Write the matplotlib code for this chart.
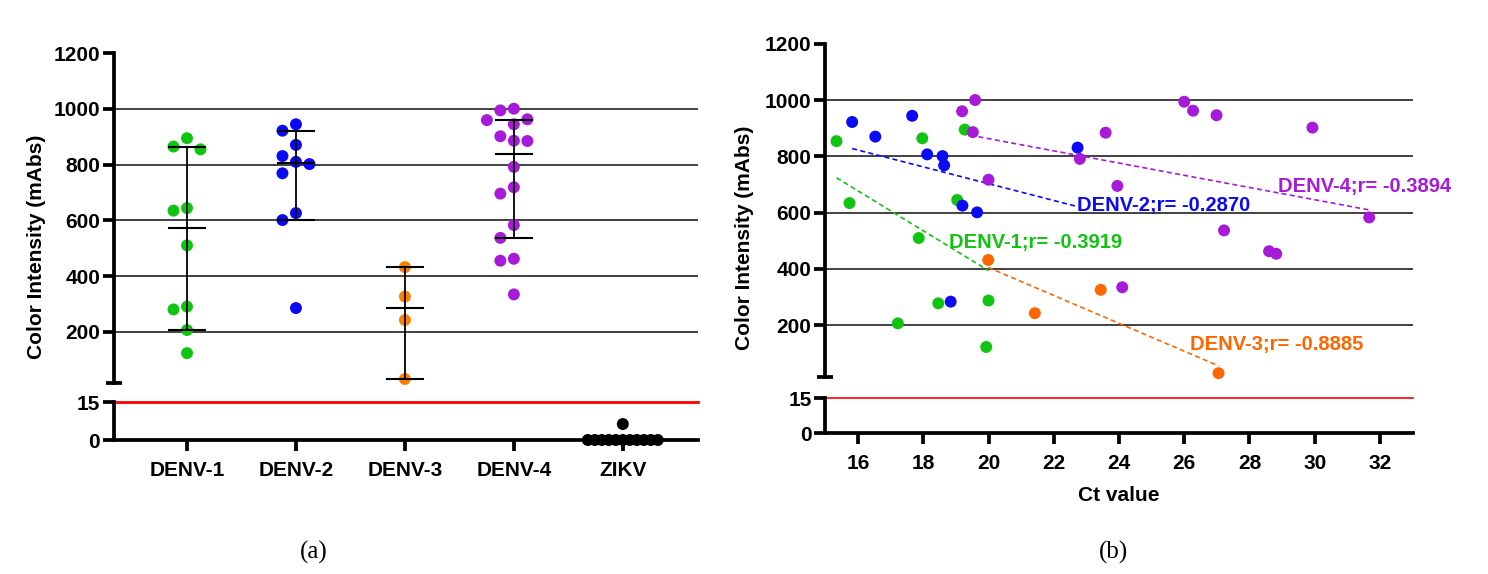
import numpy as np
import matplotlib
matplotlib.use("Agg")
import matplotlib.pyplot as plt

plt.rcParams['font.family'] = ['Liberation Sans', 'DejaVu Sans']

# ---- data (a): color intensity per group ----
groups = ["DENV-1", "DENV-2", "DENV-3", "DENV-4", "ZIKV"]
d1_int = [895, 865, 855, 635, 644, 510, 290, 280, 206, 123]
d2_int = [945, 922, 871, 831, 802, 810, 769, 626, 601, 285]
d3_int = [432, 326, 242, 30]
d4_int = [1001, 995, 963, 960, 945, 886, 885, 902, 792, 719, 696, 583, 537, 462, 455, 334]
zikv_int = [6.3, 0, 0, 0, 0, 0, 0, 0, 0, 0, 0, 0]
# median and whisker ends
bar_mid = [574, 805, 285, 838]
bar_lo = [206, 601, 30, 537]
bar_hi = [865, 922, 432, 960]

# ---- data (b): Ct value vs intensity ----
d1_ct = [15.34, 15.74, 17.97, 17.86, 17.22, 18.46, 19.27, 19.04, 20.0, 19.93]
d1_y = [854, 634, 864, 510, 207, 278, 895, 645, 288, 123]
d2_ct = [15.82, 16.53, 17.66, 18.12, 18.59, 18.64, 19.20, 19.65, 18.84, 22.73]
d2_y = [922, 870, 944, 807, 801, 768, 625, 601, 284, 831]
d3_ct = [19.99, 21.42, 23.44, 27.05]
d3_y = [432, 243, 326, 30]
d4_ct = [19.19, 19.59, 19.52, 20.0, 22.80, 23.59, 23.95, 26.0, 26.27, 26.99, 29.93, 27.22, 28.60, 28.82, 31.67, 24.10]
d4_y = [960, 1000, 886, 717, 791, 884, 695, 994, 962, 946, 902, 537, 463, 454, 583, 335]
r_labels = ["DENV-1;r= -0.3919", "DENV-2;r= -0.2870", "DENV-3;r= -0.8885", "DENV-4;r= -0.3894"]

GREEN = "#12c412"
BLUE = "#0a0af5"
ORANGE_A = "#ff8000"
ORANGE_B = "#ff6600"
PURPLE = "#a61ad8"
GRID = "#333333"
FS = 15
MS = 74

W, H = 1488, 574
fig = plt.figure(figsize=(W / 100, H / 100), dpi=100)


def frac(left, top, right, bottom):
    return [left / W, 1 - bottom / H, (right - left) / W, (bottom - top) / H]


def style_axis(ax):
    for s in ["top", "right"]:
        ax.spines[s].set_visible(False)
    ax.spines["left"].set_linewidth(2.7)
    ax.spines["bottom"].set_linewidth(2.7)
    ax.tick_params(axis="both", which="major", direction="out", length=8, width=2.7,
                   labelsize=FS, pad=2)
    ax.tick_params(axis="y", which="minor", direction="inout", length=11, width=2.7)


def swarm(ax, xc, vals, step, diam):
    # simple greedy beeswarm in pixel space
    pts = ax.transData.transform(np.column_stack([np.full(len(vals), xc), vals]))
    ypx = pts[:, 1]
    order = np.argsort(-ypx)
    placed = []
    offs = np.zeros(len(vals))
    for i in order:
        k = 0
        while True:
            m = (k + 1) // 2
            off = 0 if k == 0 else (-m * step if k % 2 == 1 else m * step)
            if all(np.hypot(off - po, ypx[i] - py) >= diam for po, py in placed):
                break
            k += 1
        placed.append((off, ypx[i]))
        offs[i] = off
    x0 = ax.transData.transform([[0, 0], [1, 0]])
    ppu = x0[1, 0] - x0[0, 0]
    return xc + offs / ppu


def setup_pair(ax, ax_lo, red_lw):
    style_axis(ax)
    style_axis(ax_lo)
    ax.spines["bottom"].set_visible(False)
    ax.set_xticks([])
    ax.set_yticks([200, 400, 600, 800, 1000, 1200])
    ax.set_yticks([15], minor=True)
    ax.set_yticklabels(["200", "400", "600", "800", "1000", "1200"], fontweight="bold", fontsize=FS)
    ax.tick_params(axis="y", which="minor", labelleft=False)
    for v in [200, 400, 600, 800, 1000]:
        ax.axhline(v, color=GRID, lw=1.3, zorder=1)
    ax_lo.set_yticks([0, 15])
    ax_lo.set_yticklabels(["0", "15"], fontweight="bold", fontsize=FS)
    ax_lo.tick_params(axis="x", pad=7)
    ax_lo.axhline(15, color="#ff0000", lw=red_lw, clip_on=False, zorder=1)


# ================= panel (a) =================
axa = fig.add_axes(frac(114, 53.3, 698, 383.2))
axa_lo = fig.add_axes(frac(114, 402, 698, 440))
for ax in (axa, axa_lo):
    ax.set_xlim(-0.67, 4.69)
axa.set_ylim(15, 1200)
axa_lo.set_ylim(0, 15)
setup_pair(axa, axa_lo, 2.0)
axa_lo.set_xticks(range(len(groups)))
axa_lo.set_xticklabels(groups, fontweight="bold", fontsize=FS)

fig.canvas.draw()
series_a = [d1_int, d2_int, d3_int, d4_int]
cols_a = [GREEN, BLUE, ORANGE_A, PURPLE]
for i, (vals, c) in enumerate(zip(series_a, cols_a)):
    xs = swarm(axa, i, vals, 13.5, 13.5)
    axa.scatter(xs, vals, s=MS, color=c, edgecolors="none", zorder=3, clip_on=False)
    hw = 0.165
    axa.plot([i, i], [bar_lo[i], bar_hi[i]], color="black", lw=1.3, zorder=4)
    for v in (bar_lo[i], bar_mid[i], bar_hi[i]):
        axa.plot([i - hw, i + hw], [v, v], color="black", lw=1.5, zorder=4)

xs = swarm(axa_lo, 4, zikv_int, 7, 6.5)
axa_lo.scatter(xs, zikv_int, s=MS, color="black", edgecolors="none", zorder=4, clip_on=False)

fig.text(37 / W, 1 - 247 / H, "Color Intensity (mAbs)", rotation=90, ha="center", va="center",
         fontsize=FS, fontweight="bold")
fig.text(314 / W, 1 - 552 / H, "(a)", ha="center", va="center", fontsize=18,
         family="Liberation Serif")

# ================= panel (b) =================
axb = fig.add_axes(frac(825.4, 43.7, 1412.6, 377.4))
axb_lo = fig.add_axes(frac(825.4, 398.3, 1412.6, 433.3))
for ax in (axb, axb_lo):
    ax.set_xlim(15, 33)
axb.set_ylim(15, 1200)
axb_lo.set_ylim(0, 15)
setup_pair(axb, axb_lo, 1.2)
axb_lo.set_xticks(range(16, 33, 2))
axb_lo.set_xticklabels([str(t) for t in range(16, 33, 2)], fontweight="bold", fontsize=FS)
axb_lo.set_xlabel("Ct value", fontsize=FS, fontweight="bold", labelpad=9)

series_b = [(d1_ct, d1_y, GREEN), (d2_ct, d2_y, BLUE), (d3_ct, d3_y, ORANGE_B), (d4_ct, d4_y, PURPLE)]
label_pos = [(18.78, 476), (22.71, 605), (26.17, 113), (28.86, 674)]
for (xs, ys, c), lab, (lx, ly) in zip(series_b, r_labels, label_pos):
    xs = np.array(xs)
    ys = np.array(ys)
    k, b = np.polyfit(xs, ys, 1)
    xx = np.array([xs.min(), xs.max()])
    axb.plot(xx, k * xx + b, color=c, lw=1.2, ls=(0, (3, 2)), zorder=2)
    axb.scatter(xs, ys, s=MS, color=c, edgecolors="none", zorder=3, clip_on=False)
    axb.text(lx, ly, lab, color=c, fontsize=14.5, fontweight="bold", ha="left", va="baseline",
             zorder=5, clip_on=False)

fig.text(744 / W, 1 - 238 / H, "Color Intensity (mAbs)", rotation=90, ha="center", va="center",
         fontsize=FS, fontweight="bold")
fig.text(1114 / W, 1 - 552 / H, "(b)", ha="center", va="center", fontsize=18,
         family="Liberation Serif")

fig.savefig("out.png", dpi=100)
